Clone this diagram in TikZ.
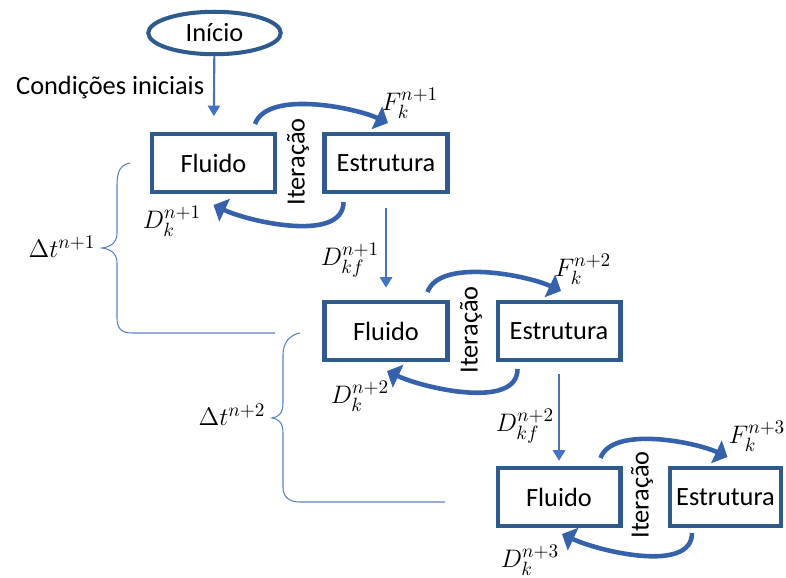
\documentclass[tikz,border=0pt]{standalone}
\usepackage{fontspec}
\setmainfont{Carlito}
\usepackage{tikz}
\usetikzlibrary{shapes.geometric, arrows.meta, positioning, calc}
\usepackage{xcolor}
\definecolor{BoxBlue}{HTML}{2E5A8C}
\definecolor{IterBlue}{HTML}{3562AA}
\definecolor{FlowBlue}{HTML}{4472C4}
\definecolor{BraceBlue}{HTML}{5B7FC0}
\tikzset{
    % Box styles
    solver/.style={
        rectangle,
        draw=BoxBlue,
        fill=white,
        line width=2.3pt,
        minimum width=2.46cm,
        minimum height=1.16cm,
        align=center,
        font=\fontsize{15}{18}\selectfont
    },
    startnode/.style={
        ellipse,
        draw=BoxBlue,
        line width=2.3pt,
        minimum width=2.65cm,
        minimum height=0.8cm,
        font=\fontsize{15}{18}\selectfont
    },
    iterlabel/.style={
        rotate=90,
        font=\fontsize{15}{18}\selectfont
    },
    txt/.style={
        font=\fontsize{15}{18}\selectfont
    },
    % Arrow styles
    flowarrow/.style={
        -{Triangle[width=7pt,length=6pt]},
        line width=1.2pt,
        draw=FlowBlue
    },
    iterarrow/.style={
        -{Triangle[width=14pt,length=7pt]},
        line width=2.6pt,
        draw=IterBlue
    },
    brace/.style={
        line width=0.6pt,
        draw=BraceBlue
    }
}
\begin{document}
\begin{tikzpicture}[x=0.02cm, y=0.02cm]
    \useasboundingbox (0,0) rectangle (786,-577);

    \node[startnode] (inicio) at (214.5,-33) {Início};
    \node[txt, anchor=west] (cond) at (10,-88) {Condições iniciais};

    % time step n+1
    \node[solver] (f1) at (213.5,-163) {Fluido};
    \node[solver] (e1) at (386,-163) {Estrutura};
    \node[iterlabel] (it1) at (298,-162) {Iteração};
    \node[txt] (F1) at (410,-103) {$F_k^{n+1}$};
    \node[txt] (D1) at (172,-221) {$D_k^{n+1}$};
    \node[txt] (Dkf1) at (350,-260) {$D_{kf}^{n+1}$};

    % time step n+2
    \node[solver] (f2) at (386,-331) {Fluido};
    \node[solver] (e2) at (559,-331) {Estrutura};
    \node[iterlabel] (it2) at (471,-330) {Iteração};
    \node[txt] (F2) at (583,-269) {$F_k^{n+2}$};
    \node[txt] (D2) at (360,-396) {$D_k^{n+2}$};
    \node[txt] (Dkf2) at (525,-426) {$D_{kf}^{n+2}$};

    % time step n+3
    \node[solver] (f3) at (559,-497) {Fluido};
    \node[solver, minimum width=2.22cm] (e3) at (725.5,-497) {Estrutura};
    \node[iterlabel] (it3) at (642,-495) {Iteração};
    \node[txt] (F3) at (757,-436) {$F_k^{n+3}$};
    \node[txt] (D3) at (530,-560) {$D_k^{n+3}$};

    \node[txt] (dt1) at (62,-247) {$\Delta t^{n+1}$};
    \node[txt] (dt2) at (232,-415) {$\Delta t^{n+2}$};

    \draw[flowarrow, shorten >=9pt] (inicio) -- (f1);
    \draw[flowarrow, shorten <=8pt, shorten >=7pt] (e1) -- (f2);
    \draw[flowarrow, shorten <=7pt, shorten >=3pt] (e2) -- (f3);

    \draw[iterarrow] ([shift={(-22,8)}]f1.north east) to[out=70,in=155,looseness=0.7] ([shift={(2,9)}]e1.north);
    \draw[iterarrow] ([shift={(21,-8)}]e1.south west) to[out=-90,in=-25,looseness=0.8] ([shift={(0,-11)}]f1.south);
    \draw[iterarrow] ([shift={(-22,8)}]f2.north east) to[out=70,in=155,looseness=0.7] ([shift={(2,9)}]e2.north);
    \draw[iterarrow] ([shift={(22,-7)}]e2.south west) to[out=-90,in=-25,looseness=0.8] ([shift={(1,-9)}]f2.south);
    \draw[iterarrow] ([shift={(-22,8)}]f3.north east) to[out=70,in=155,looseness=0.7] ([shift={(2,9)}]e3.north);
    \draw[iterarrow] ([shift={(24,-5)}]e3.south west) to[out=-90,in=-25,looseness=0.8] ([shift={(3,-6)}]f3.south);

    % braces
    \draw[brace] (130,-163) .. controls (120,-165) and (117,-172) .. (117,-185) -- (117,-233)
        .. controls (117,-243) and (110,-247) .. (102,-248)
        .. controls (110,-249) and (117,-253) .. (117,-263) -- (117,-318)
        .. controls (117,-328) and (121,-333) .. (132,-333) -- (275,-333);
    \draw[brace] (300,-333) .. controls (290,-335) and (283,-342) .. (283,-355) -- (283,-403)
        .. controls (283,-413) and (279,-417) .. (272,-418)
        .. controls (279,-419) and (283,-423) .. (283,-433) -- (283,-487)
        .. controls (283,-497) and (289,-502) .. (300,-502) -- (445,-502);
\end{tikzpicture}
\end{document}
